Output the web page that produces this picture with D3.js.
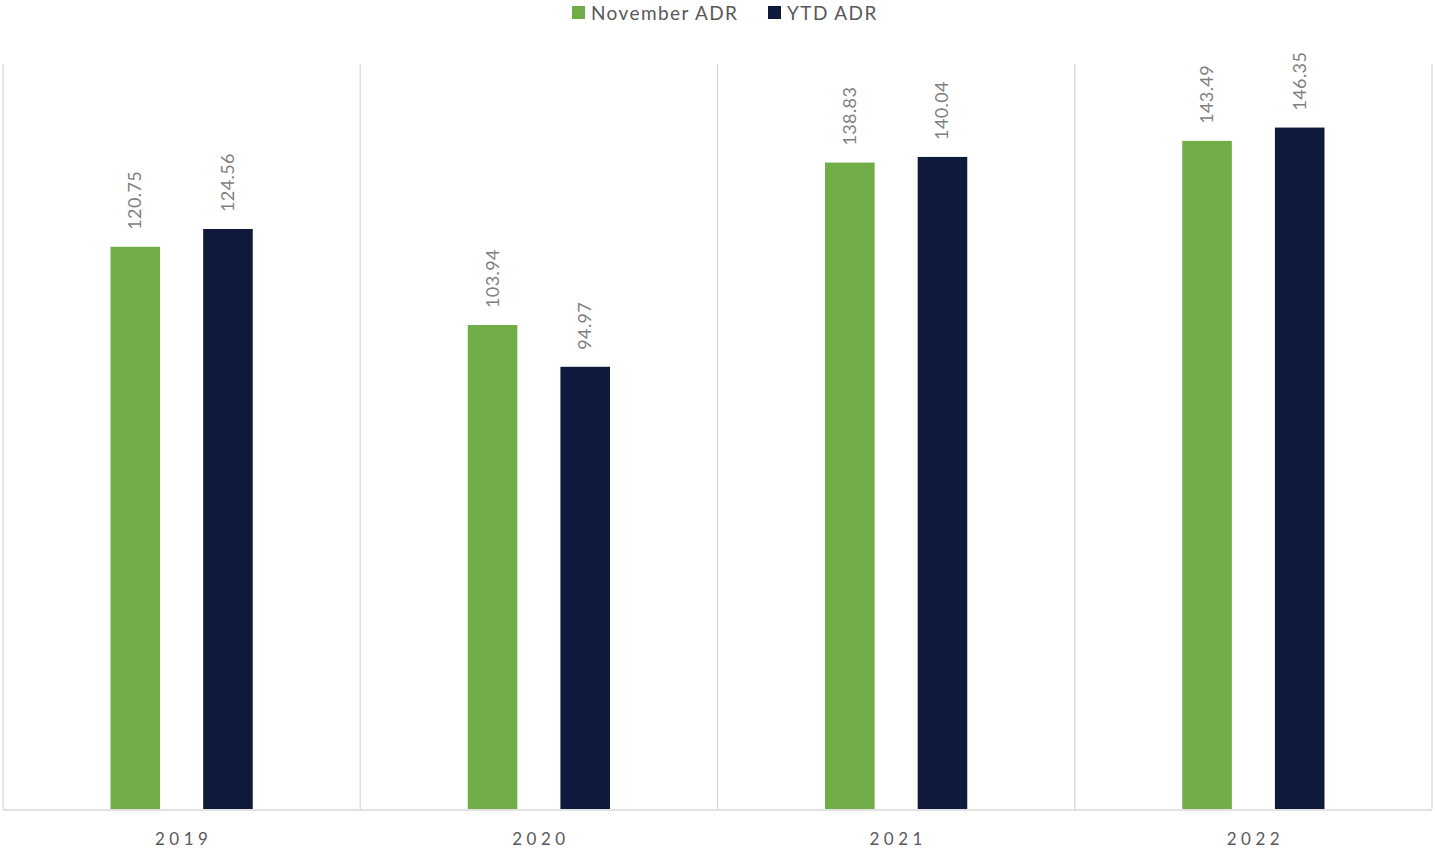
<!DOCTYPE html>
<html>
<head>
<meta charset="utf-8">
<script src="https://cdn.jsdelivr.net/npm/d3@7"></script>
<style>
  html, body { margin: 0; padding: 0; background: #fff; }
  svg { display: block; font-family: Lato, "Open Sans", sans-serif; }
</style>
</head>
<body>
<svg id="chart" width="1435" height="850"></svg>
<script>
// Average daily rate by year
const years = ["2019", "2020", "2021", "2022"];
const seriesNames = ["November ADR", "YTD ADR"];
const novemberADR = [120.75, 103.94, 138.83, 143.49];
const ytdADR = [124.56, 94.97, 140.04, 146.35];
const seriesColors = ["#70AD47", "#0F193C"];

const svg = d3.select("#chart");
const plot = { left: 3, right: 1432, top: 64, bottom: 809 };

const rows = years.map((y, i) => ({
  year: y,
  values: [novemberADR[i], ytdADR[i]]
}));

const x0 = d3.scaleBand().domain(years).range([plot.left, plot.right]).padding(0);
const x1 = d3.scaleBand().domain(seriesNames).range([0, x0.bandwidth()])
  .paddingInner(0.465).paddingOuter(1.16);
const y = d3.scaleLinear().domain([0, 160]).range([plot.bottom, plot.top]);

// category separators
const seps = d3.range(years.length + 1).map(i => plot.left + i * x0.step());
svg.append("g").selectAll("line").data(seps).join("line")
  .attr("x1", d => d).attr("x2", d => d)
  .attr("y1", plot.top).attr("y2", plot.bottom)
  .attr("stroke", "#d9d9d9").attr("stroke-width", 1.3);

// bars
const groups = svg.append("g").selectAll("g").data(rows).join("g")
  .attr("transform", d => `translate(${x0(d.year)},0)`);

groups.selectAll("rect").data(d => d.values.map((v, i) => ({ v, i })))
  .join("rect")
  .attr("x", d => x1(seriesNames[d.i]))
  .attr("width", x1.bandwidth())
  .attr("y", d => y(d.v))
  .attr("height", d => y(0) - y(d.v))
  .attr("fill", d => seriesColors[d.i]);

// value labels
groups.selectAll("text").data(d => d.values.map((v, i) => ({ v, i })))
  .join("text")
  .attr("transform", d => `translate(${x1(seriesNames[d.i]) + x1.bandwidth() / 2 + 6},${y(d.v) - 17}) rotate(-90)`)
  .attr("text-anchor", "start")
  .attr("font-size", 18)
  .attr("letter-spacing", "0.4px")
  .attr("fill", "#7f7f7f")
  .text(d => d.v.toFixed(2));

// x axis
const xAxis = svg.append("g")
  .attr("transform", `translate(0,${plot.bottom + 1})`)
  .call(d3.axisBottom(x0).tickSize(0).tickPadding(23));
xAxis.select(".domain").attr("stroke", "#d9d9d9").attr("stroke-width", 1.5)
  .attr("d", `M${plot.left},0H${plot.right}`);
xAxis.selectAll("text")
  .attr("font-family", "Lato, 'Open Sans', sans-serif")
  .attr("font-size", 17)
  .attr("letter-spacing", "4.5px")
  .attr("dx", "2px")
  .attr("fill", "#595959");

// legend
const legendItems = [
  { name: seriesNames[0], color: seriesColors[0], x: 572 },
  { name: seriesNames[1], color: seriesColors[1], x: 768 }
];
const legend = svg.append("g").selectAll("g").data(legendItems).join("g")
  .attr("transform", d => `translate(${d.x},6)`);
legend.append("rect").attr("width", 13).attr("height", 13).attr("fill", d => d.color);
legend.append("text").attr("x", 19).attr("y", 13.5)
  .attr("font-size", 19).attr("letter-spacing", "1.4px").attr("fill", "#595959")
  .text(d => d.name);
</script>
</body>
</html>
